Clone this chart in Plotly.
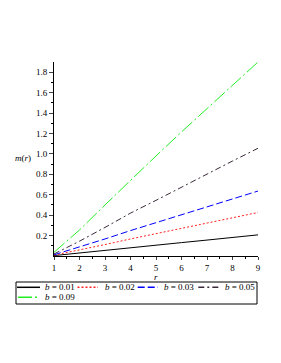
import plotly.graph_objects as go

r = [1, 2, 3, 4, 5, 6, 7, 8, 9]
b_labels = ["0.01", "0.02", "0.03", "0.05", "0.09"]
m_b001 = [0.004, 0.028, 0.054, 0.080, 0.106, 0.131, 0.156, 0.182, 0.207]
m_b002 = [0.008, 0.058, 0.112, 0.167, 0.219, 0.271, 0.323, 0.375, 0.426]
m_b003 = [0.012, 0.086, 0.167, 0.249, 0.327, 0.405, 0.482, 0.560, 0.636]
m_b005 = [0.020, 0.145, 0.280, 0.420, 0.545, 0.675, 0.800, 0.930, 1.055]
m_b009 = [0.036, 0.255, 0.500, 0.745, 0.980, 1.215, 1.445, 1.675, 1.900]
series = [m_b001, m_b002, m_b003, m_b005, m_b009]

x_ticks = [1, 2, 3, 4, 5, 6, 7, 8, 9]
y_ticks = [0.2, 0.4, 0.6, 0.8, 1.0, 1.2, 1.4, 1.6, 1.8]
y_ticktext = ["0.2", "0.4", "0.6", "0.8", "1.0", "1.2", "1.4", "1.6", "1.8"]

colors = ["#000000", "#ff2020", "#0000ff", "#3a2a3a", "#22ee22"]
dashes = ["solid", "2px,2px", "7px,3px", "6px,3px,2px,3px", "14px,3px,2px,3px"]

FONT = "Liberation Serif"
font = dict(family=FONT, size=9, color="black")

# page-pixel -> paper helpers (page has 8px body offset)
L, T, W, H = 46, 54, 204, 194
def px(xp):
    return (xp - 8 - L) / W
def py(yp):
    return (T + H - (yp - 8)) / H

fig = go.Figure()
for lab, ys, c, d in zip(b_labels, series, colors, dashes):
    fig.add_trace(go.Scatter(
        x=r, y=ys, mode="lines", name=f"<i>b</i> = {lab}",
        line=dict(color=c, width=1, dash=d), showlegend=False,
    ))

# manual legend
shapes = [dict(type="rect", xref="paper", yref="paper",
               x0=px(16), x1=px(257), y0=py(304), y1=py(282),
               line=dict(color="black", width=1), fillcolor="rgba(0,0,0,0)")]
annotations = []
legend_pos = [(17, 40, 42.5, 287.3), (77.5, 98, 102.7, 287.3), (137.7, 158, 162.3, 287.3),
              (198.3, 218.5, 222.7, 287.3), (18, 38.5, 42.5, 297.3)]
for (x0, x1, xt, yr), lab, c, d in zip(legend_pos, b_labels, colors, dashes):
    shapes.append(dict(type="line", xref="paper", yref="paper",
                       x0=px(x0), x1=px(x1), y0=py(yr), y1=py(yr),
                       line=dict(color=c, width=1.5, dash=d)))
    annotations.append(dict(text=f"<i>b</i> = {lab}", xref="paper", yref="paper",
                            x=px(xt), y=py(yr), xanchor="left", yanchor="middle",
                            showarrow=False, font=dict(family=FONT, size=9, color="black")))

annotations.append(dict(
    text="<i>m</i>(<i>r</i>)", xref="paper", yref="paper", x=px(23), y=py(157.5),
    xanchor="center", yanchor="middle", showarrow=False, font=font,
))
annotations.append(dict(
    text="<i>r</i>", xref="paper", yref="paper", x=px(156), y=py(277),
    xanchor="center", yanchor="middle", showarrow=False, font=font,
))

fig.update_layout(
    width=281, height=363,
    margin=dict(l=L, r=281 - L - W, t=T, b=363 - T - H, autoexpand=False),
    paper_bgcolor="white", plot_bgcolor="white",
    font=font,
    showlegend=False,
    xaxis=dict(
        range=[1, 9], tickvals=x_ticks, ticks="outside", ticklen=3, tickwidth=1,
        showline=True, linecolor="black", linewidth=1, showgrid=False, zeroline=False,
        minor=dict(dtick=0.5, ticks="outside", ticklen=2, tickcolor="black"),
        tickfont=font, automargin=False,
    ),
    yaxis=dict(
        range=[0, 1.9], tickvals=y_ticks, ticktext=y_ticktext, ticks="outside", ticklen=4,
        tickwidth=1, showline=True, linecolor="black", linewidth=1, showgrid=False,
        zeroline=False,
        minor=dict(tickvals=[0.1, 0.3, 0.5, 0.7, 0.9, 1.1, 1.3, 1.5, 1.7], ticks="outside",
                   ticklen=2, tickcolor="black"),
        tickfont=font, automargin=False,
    ),
    shapes=shapes,
    annotations=annotations,
)

fig.write_html("out.html")
